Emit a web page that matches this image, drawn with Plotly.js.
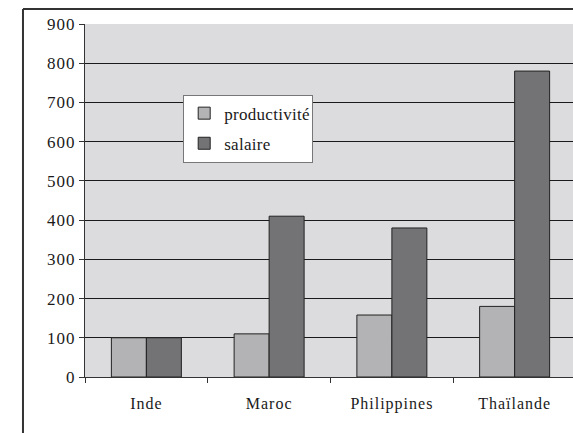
<!DOCTYPE html>
<html><head><meta charset="utf-8">
<script src="https://cdn.plot.ly/plotly-3.0.1.min.js"></script>
<style>
html,body{margin:0;padding:0;overflow:hidden;background:#fff;}
#chart .xtick text, #chart .ytick text{letter-spacing:1px;}
#chart .legendtext{letter-spacing:0.3px;}
</style>
</head><body>
<div id="chart"></div>
<script>
const categories = ["Inde", "Maroc", "Philippines", "Thaïlande"];
const productivite = [100, 110, 158, 180];
const salaire = [100, 410, 380, 780];
const yTicks = [0, 100, 200, 300, 400, 500, 600, 700, 800, 900];

const fam = "Liberation Serif, Times New Roman, serif";
const font = {family: fam, size: 16, color: "#1a1a1a"};

const traces = [
  {type: "bar", name: "productivité", x: categories, y: productivite, legendgroup: "a",
   marker: {color: "#b3b3b5", line: {color: "#222", width: 1}}},
  {type: "bar", name: "salaire", x: categories, y: salaire, legendgroup: "b",
   marker: {color: "#737376", line: {color: "#222", width: 1}}}
];

const layout = {
  width: 580, height: 433,
  margin: {l: 85, r: 4, t: 24, b: 56},
  paper_bgcolor: "#fff",
  plot_bgcolor: "#dcdcde",
  font: font,
  barmode: "group",
  bargap: 0.43,
  bargroupgap: 0,
  showlegend: true,
  legend: {
    x: 0.2, y: 0.8, xanchor: "left", yanchor: "top",
    bgcolor: "#fff", bordercolor: "#777", borderwidth: 1,
    font: {family: fam, size: 17, color: "#1a1a1a"},
    traceorder: "grouped", tracegroupgap: 5,
    itemwidth: 30
  },
  xaxis: {
    type: "category",
    showgrid: false, showline: true, linecolor: "#333", linewidth: 1,
    ticks: "outside", tickson: "boundaries", ticklen: 5, tickcolor: "#333",
    tickfont: font, ticklabelstandoff: 12, zeroline: false
  },
  yaxis: {
    range: [0, 900], tickvals: yTicks, ticktext: yTicks.map(String),
    showgrid: true, gridcolor: "#1a1a1a", gridwidth: 1,
    showline: true, linecolor: "#333", linewidth: 1,
    ticks: "outside", ticklen: 5, tickcolor: "#333",
    tickfont: {family: fam, size: 17, color: "#1a1a1a"}, zeroline: false
  },
  shapes: [
    {type: "line", xref: "paper", yref: "paper", x0: -0.1263, x1: -0.1263, y0: 1.0425, y1: -0.2,
     line: {color: "#333", width: 2}},
    {type: "line", xref: "paper", yref: "paper", x0: -0.1263, x1: 1.05, y0: 1.0425, y1: 1.0425,
     line: {color: "#333", width: 2}}
  ]
};

Plotly.newPlot("chart", traces, layout, {displayModeBar: false, staticPlot: true});
</script>
</body></html>
